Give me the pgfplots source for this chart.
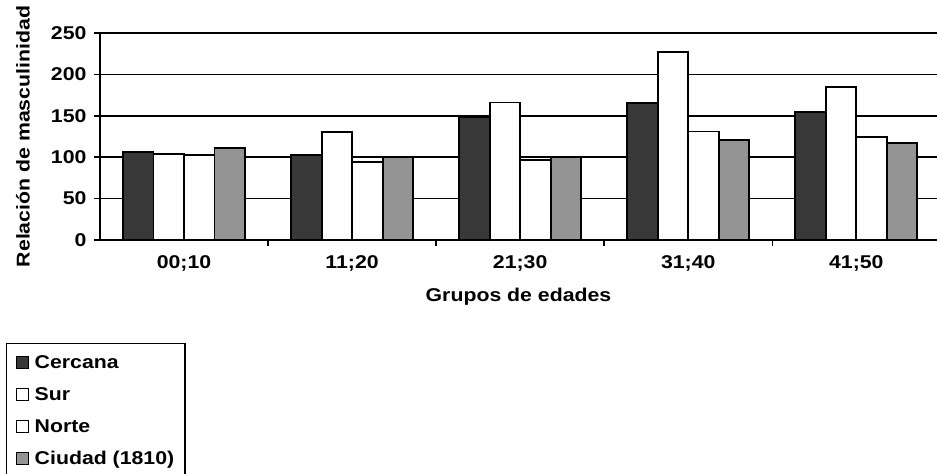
\documentclass[border=0pt]{standalone}
\usepackage{fontspec}
\setmainfont[FakeStretch=1.15]{Liberation Sans}
\usepackage{pgfplots}
\pgfplotsset{compat=1.18}
\newcommand\cf{\fontsize{18.5bp}{22bp}\selectfont\bfseries}
\begin{document}
\begin{tikzpicture}
\path[use as bounding box] (0,0) rectangle (937bp,474bp);
\begin{axis}[
  at={(100bp,234bp)}, anchor=south west,
  width=837bp, height=207bp, scale only axis,
  ybar=0pt, bar width=30.5bp,
  xmin=-0.5, xmax=4.48, ymin=0, ymax=250,
  axis x line*=bottom, axis y line*=left,
  axis line style={-, line width=1.8pt},
  xtick={0,1,2,3,4},
  xticklabels={00;10,11;20,21;30,31;40,41;50},
  minor xtick={0.5,1.5,2.5,3.5},
  major x tick style={draw=none},
  minor x tick style={black, line width=1.6pt},
  minor tick length=6bp,
  ytick={0,50,100,150,200,250},
  y tick style={black, line width=1.6pt},
  major tick length=6bp,
  tick align=outside,
  ymajorgrids, grid style={black, line width=1.6pt},
  /pgf/number format/assume math mode=true,
  tick label style={font=\cf},
  yticklabel style={xshift=-4bp},
  xticklabel style={yshift=-6bp},
  xlabel={Grupos de edades},
  ylabel={Relación de masculinidad},
  label style={font=\cf},
  xlabel style={at={(axis description cs:0.5,-0.275)}, anchor=center},
  ylabel style={at={(axis description cs:-0.092,0.5)}, anchor=center},
  legend style={at={(axis description cs:-0.1123,-0.4976)}, anchor=north west,
    draw=black, line width=1.5pt, fill=white, font=\cf,
    inner xsep=9bp, inner ysep=10bp, row sep=13.5bp,
    /tikz/every odd column/.append style={column sep=4bp}},
  legend cell align=left,
  legend image code/.code={\draw[#1, line width=1pt] (0bp,-6bp) rectangle (12bp,6bp);},
]
\addplot[draw=black, line width=1.8pt, fill=black!78] coordinates {(0,106) (1,103) (2,148) (3,165) (4,155)};
\addplot[draw=black, line width=1.8pt, fill=white] coordinates {(0,104) (1,130) (2,166) (3,227) (4,185)};
\addplot[draw=black, line width=1.8pt, fill=white] coordinates {(0,103) (1,94) (2,97) (3,131) (4,124)};
\addplot[draw=black, line width=1.8pt, fill=black!42] coordinates {(0,111) (1,100) (2,100) (3,121) (4,117)};
\legend{Cercana,Sur,Norte,Ciudad (1810)}
\end{axis}
\end{tikzpicture}
\end{document}
